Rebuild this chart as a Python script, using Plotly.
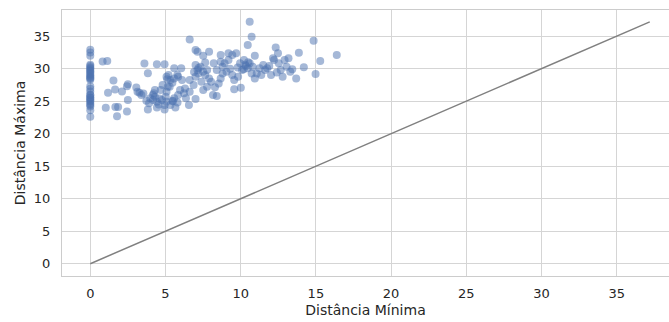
import plotly.graph_objects as go

# Minimum vs maximum distance per sample
dist_min = [
    0, 0, 0, 0, 0, 0, 0, 0, 0, 0, 0, 0, 0, 0, 0, 0, 0, 0, 0, 0, 0,
    0, 0, 0, 0, 0, 0, 0, 0, 0, 0,
    0.82, 1.13, 1.54, 1.18, 1.65, 2.11, 2.44, 2.50, 1.03, 1.67, 1.85, 1.78, 2.44, 2.50,
    3.06, 3.27, 3.53, 3.60, 3.83, 4.43, 4.94,
    3.73, 3.91, 4.17, 4.30, 4.43, 4.55, 4.30, 4.22, 3.99, 3.83, 4.43, 4.94, 4.94, 4.76,
    5.02, 5.07, 5.15, 5.07, 5.12, 5.20, 5.33, 5.46, 5.28, 5.58, 5.79, 6.05, 5.84, 6.10,
    5.97, 5.84, 5.58, 5.46, 5.66, 5.33, 5.07, 6.23, 6.36, 6.30, 6.61, 6.56, 7.00, 6.61,
    6.87, 7.00, 7.13, 7.00, 7.18, 7.33, 7.51, 7.64, 7.77, 7.90, 7.39, 7.51, 7.77, 8.03,
    8.16, 8.41, 8.29, 8.54, 8.67, 8.80, 8.41, 8.21, 8.67, 8.93, 9.19, 9.06, 9.44, 9.57,
    9.57, 10.01, 9.83, 10.09, 9.96, 10.22, 10.34, 10.47, 10.60, 10.73, 10.94, 11.07, 11.25, 11.37,
    11.50, 11.63, 11.76, 12.02, 12.15, 12.22, 12.33, 12.48, 12.53, 12.66, 12.79, 12.92, 13.05, 13.18,
    13.30, 13.43, 13.69, 13.87, 14.20, 14.85, 14.98, 15.29, 16.39,
    10.60, 10.73, 10.47, 10.94, 9.70, 9.44, 9.19, 8.67, 7.90, 7.00, 7.13, 6.61, 7.51, 7.64,
    5.58, 4.81, 4.68, 4.17, 3.40, 3.14,
    10.30, 10.50, 10.20, 10.80, 9.80, 5.50, 5.80, 4.60, 6.90, 7.20, 8.80, 9.30, 11.90, 12.40,
]
dist_max = [
    32.9, 32.5, 32.0, 30.6, 30.2, 29.8, 29.4, 29.0, 28.8, 28.5, 28.3, 27.3, 26.5, 25.9, 25.6,
    25.3, 24.9, 24.6, 24.2, 23.6, 22.6,
    30.4, 30.0, 29.6, 29.2, 28.6, 26.0, 25.5, 25.1, 24.4, 26.9,
    31.1, 31.2, 28.2, 26.3, 26.8, 26.5, 27.3, 27.6, 24.0, 24.1, 24.1, 22.7, 23.4, 25.2,
    27.1, 26.3, 26.2, 30.8, 29.3, 30.7, 30.7,
    25.08, 24.67, 25.18, 25.69, 24.92, 24.51, 26.72, 26.21, 25.44, 23.74, 24.05, 23.74, 24.41, 25.18,
    25.69, 26.46, 27.23, 28.77, 28.36, 29.03, 28.26, 27.85, 27.23, 30.05, 29.03, 30.05, 28.77, 28.26,
    26.72, 25.95, 25.44, 25.08, 24.05, 24.41, 24.92, 26.21, 25.44, 26.97, 28.26, 24.41, 25.33, 26.46,
    27.49, 28.77, 29.79, 30.56, 29.28, 30.31, 29.54, 29.03, 29.79, 28.51, 28.00, 26.72, 27.23, 28.00,
    25.95, 25.79, 27.13, 27.74, 28.51, 29.28, 29.79, 30.82, 32.10, 30.82, 31.33, 29.54, 29.03, 28.26,
    26.82, 27.08, 28.77, 29.79, 30.82, 31.33, 30.41, 30.05, 30.82, 29.28, 28.51, 29.28, 30.05, 29.03,
    30.56, 29.79, 30.05, 29.03, 31.59, 31.33, 33.28, 32.36, 30.82, 29.79, 28.77, 31.33, 30.31, 31.59,
    29.54, 29.90, 28.51, 32.46, 30.21, 34.31, 29.18, 31.18, 32.10,
    37.23, 34.92, 33.64, 32.00, 32.36, 32.10, 32.36, 31.08, 32.62, 32.87, 32.62, 34.51, 32.00, 30.97,
    28.51, 27.49, 26.72, 25.95, 25.95, 26.46,
    30.6, 31.0, 29.9, 30.3, 30.2, 25.0, 24.8, 25.4, 29.5, 30.1, 30.3, 30.0, 30.4, 29.4,
]

# Reference line y = x
ref_line = [0, 37.2]
tick_vals = [0, 5, 10, 15, 20, 25, 30, 35]

fig = go.Figure()
fig.add_trace(go.Scatter(
    x=dist_min, y=dist_max, mode="markers",
    marker=dict(color="#4c72b0", size=8, opacity=0.5, line=dict(width=0)),
    showlegend=False,
))
fig.add_trace(go.Scatter(
    x=ref_line, y=ref_line, mode="lines",
    line=dict(color="#808080", width=1.5),
    showlegend=False,
))

axis_common = dict(
    tickvals=tick_vals,
    showgrid=True, gridcolor="#d5d5d5", gridwidth=1.2,
    zeroline=False,
    showline=True, linecolor="#cccccc", linewidth=1.2, mirror=True,
    ticks="", tickfont=dict(family="DejaVu Sans", size=13, color="#262626"),
    title_font=dict(family="DejaVu Sans", size=14, color="#262626"),
)

fig.update_layout(
    width=669, height=322,
    margin=dict(l=62, r=0, t=10, b=46),
    plot_bgcolor="white", paper_bgcolor="white",
    xaxis=dict(range=[-1.88, 38.48], title=dict(text="Distância Mínima", standoff=5), **axis_common),
    yaxis=dict(range=[-1.89, 39.03], title=dict(text="Distância Máxima", standoff=4), **axis_common),
)
fig.update_xaxes(ticklabelstandoff=5)
fig.update_yaxes(ticklabelstandoff=8)

fig.write_html("out.html")
